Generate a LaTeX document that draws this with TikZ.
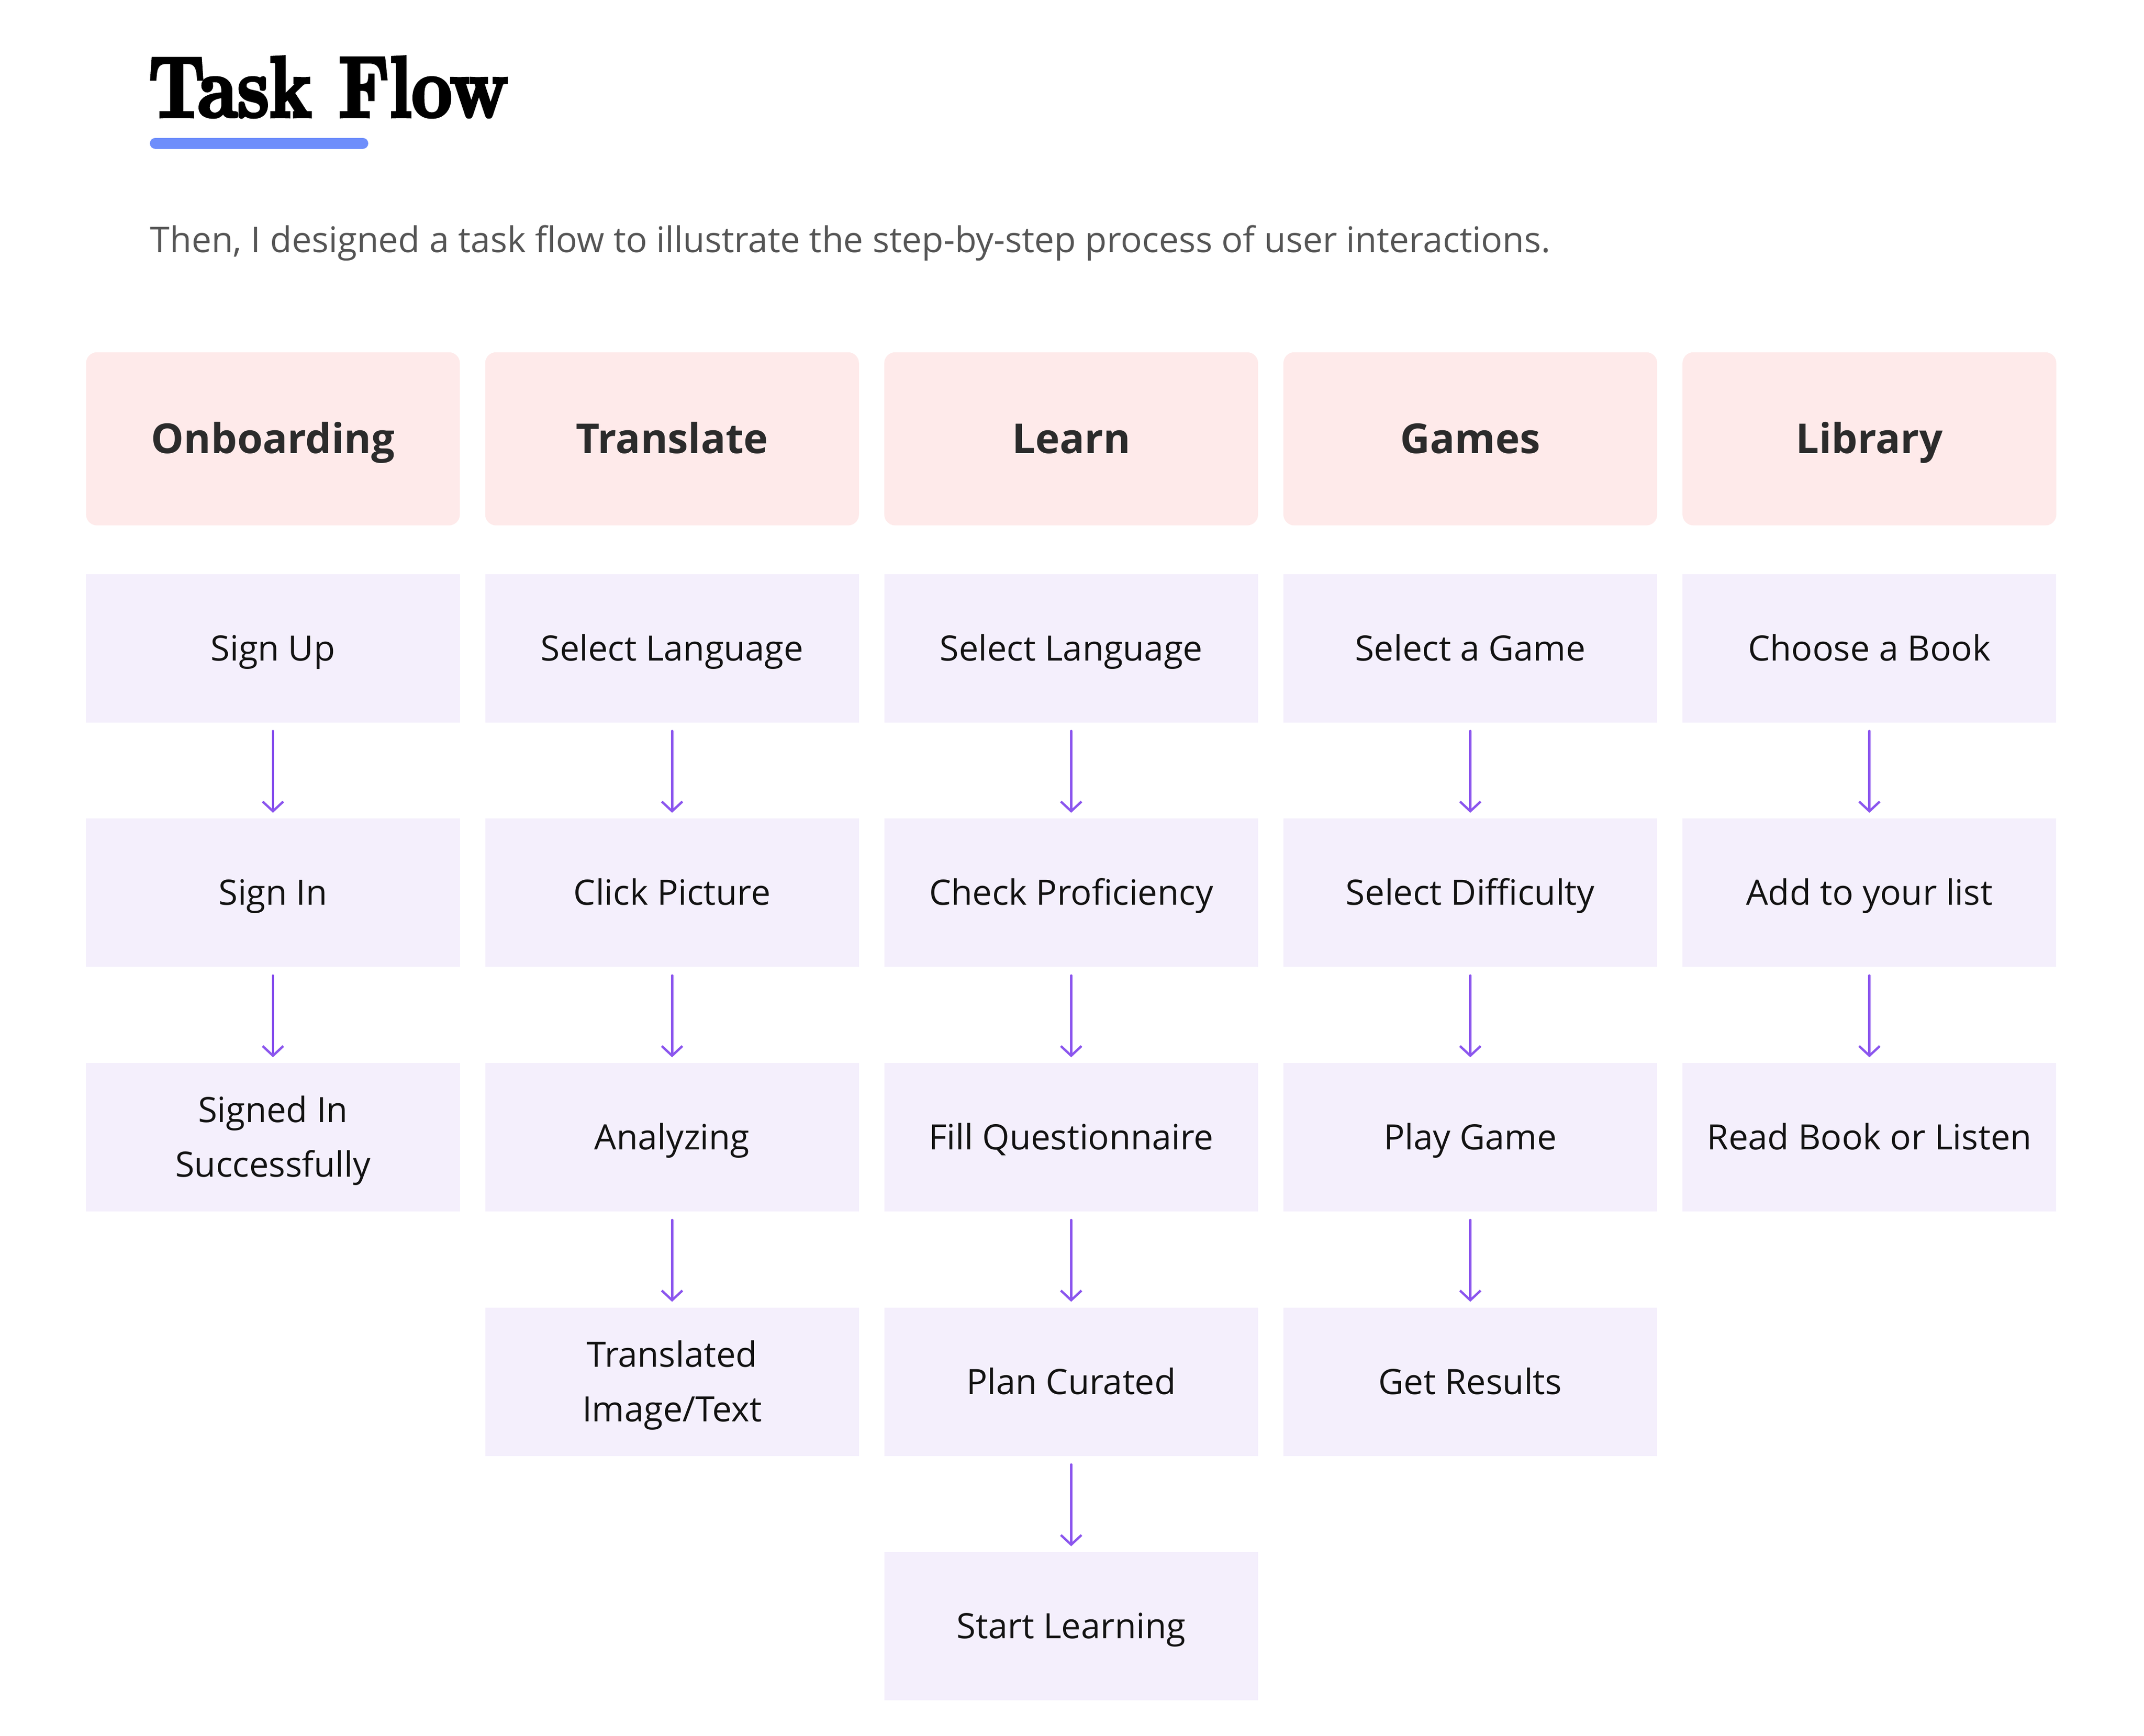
\documentclass[tikz,border=0pt]{standalone}
\usepackage{fontspec}
\usepackage{xcolor}
\usetikzlibrary{positioning,arrows.meta}
\newfontfamily\uifont{Open Sans}
\newfontfamily\titlefont[FakeStretch=0.81,FakeBold=3.5]{lmroman10-bold.otf}
\definecolor{headfill}{HTML}{FEEAEA}
\definecolor{stepfill}{HTML}{F4EFFC}
\definecolor{flowarrow}{HTML}{8B55EE}
\definecolor{barblue}{HTML}{6E8EFB}
\definecolor{subgray}{HTML}{555555}
\definecolor{headtext}{HTML}{2B2B2B}

\begin{document}
\begin{tikzpicture}[x=1pt,y=1pt,
node distance=69.5pt and 18pt,
font=\uifont\fontsize{25.4}{39.7}\selectfont]

\tikzstyle{head}=[rectangle, rounded corners=8pt, fill=headfill, minimum width=272pt,
minimum height=126pt, inner sep=0pt, text=headtext, text height=21.4pt, text depth=0pt,
font=\uifont\bfseries\fontsize{30}{36}\selectfont]
\tikzstyle{stepbox}=[rectangle, fill=stepfill, minimum width=272pt, minimum height=108pt,
inner sep=0pt, align=center, text=black!93, text height=18.1pt, text depth=0pt]
\tikzstyle{twoline}=[text height=57.8pt]
\tikzstyle{flow}=[-{Straight Barb[length=7pt,width=15pt]}, draw=flowarrow, line width=1.7pt,
line cap=round, shorten <=6pt, shorten >=4pt]

\useasboundingbox[fill=white] (0,0) rectangle (1560,-1263);

%title and intro
\node[anchor=base west, inner sep=0pt] (title) at (108,-85)
{\titlefont\fontsize{63}{63}\selectfont Task Flow};
\draw[barblue, line width=7.9pt, line cap=round] (113,-104.3) -- (264,-104.3);
\node[anchor=base west, inner sep=0pt, text=subgray] (intro) at (109.2,-183.5)
{\fontsize{25.75}{30}\selectfont Then, I designed a task flow to illustrate the step-by-step process of user interactions.};

%column heads
\node[head] (onboard) at (198.6,-319.3) {Onboarding};
\node[head, right=of onboard] (translate) {Translate};
\node[head, right=of translate] (learn) {Learn};
\node[head, right=of learn] (games) {Games};
\node[head, right=of games] (library) {Library};

%onboarding
\node[stepbox, below=35pt of onboard] (signup) {Sign Up};
\node[stepbox, below=of signup] (signin) {Sign In};
\node[stepbox, twoline, below=of signin] (signedin) {Signed In\\Successfully};

%translate
\node[stepbox, below=35pt of translate] (trlang) {Select Language};
\node[stepbox, below=of trlang] (picture) {Click Picture};
\node[stepbox, below=of picture] (analyze) {Analyzing};
\node[stepbox, twoline, below=of analyze] (translated) {Translated\\Image/Text};

%learn
\node[stepbox, below=35pt of learn] (lnlang) {Select Language};
\node[stepbox, below=of lnlang] (proficiency) {Check Proficiency};
\node[stepbox, below=of proficiency] (questions) {Fill Questionnaire};
\node[stepbox, below=of questions] (plan) {Plan Curated};
\node[stepbox, below=of plan] (start) {Start Learning};

%games
\node[stepbox, below=35pt of games] (pickgame) {Select a Game};
\node[stepbox, below=of pickgame] (difficulty) {Select Difficulty};
\node[stepbox, below=of difficulty] (play) {Play Game};
\node[stepbox, below=of play] (results) {Get Results};

%library
\node[stepbox, below=35pt of library] (book) {Choose a Book};
\node[stepbox, below=of book] (addlist) {Add to your list};
\node[stepbox, below=of addlist] (read) {Read Book or Listen};

\foreach \a/\b in {signup/signin, signin/signedin,
trlang/picture, picture/analyze, analyze/translated,
lnlang/proficiency, proficiency/questions, questions/plan, plan/start,
pickgame/difficulty, difficulty/play, play/results,
book/addlist, addlist/read}
\draw[flow] (\a) -- (\b);

\end{tikzpicture}
\end{document}
